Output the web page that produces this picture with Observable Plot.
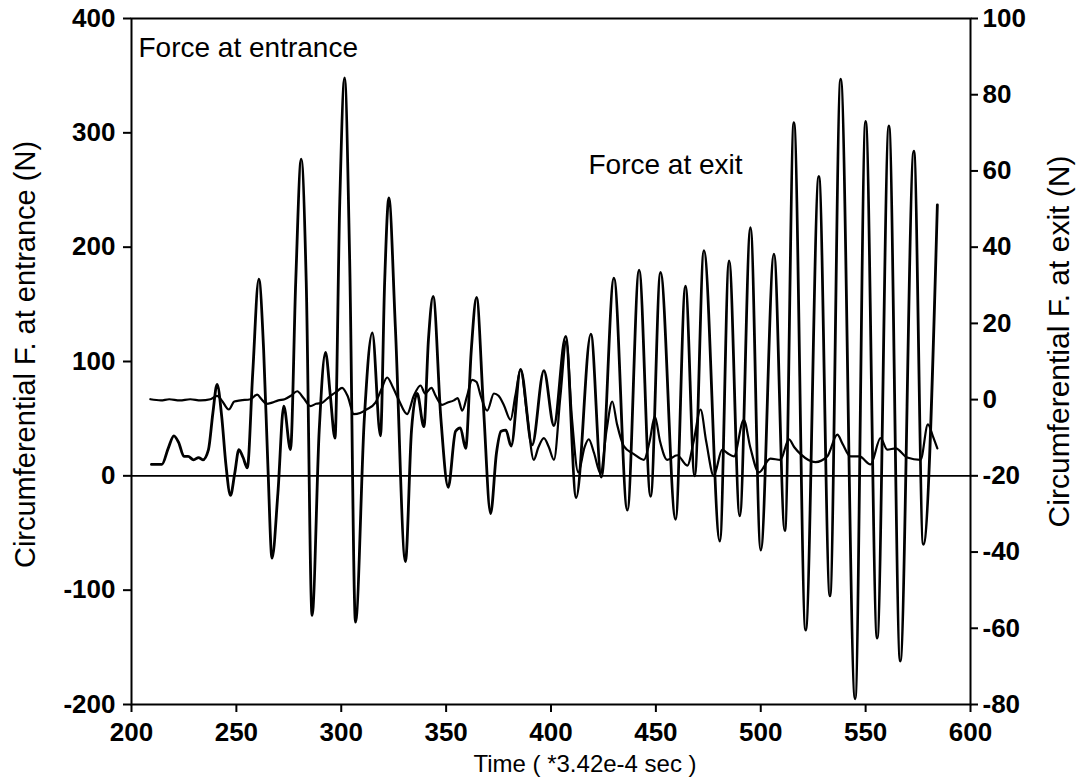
<!DOCTYPE html>
<html>
<head>
<meta charset="utf-8">
<script src="https://cdn.jsdelivr.net/npm/d3@7"></script>
<script src="https://cdn.jsdelivr.net/npm/@observablehq/plot@0.6"></script>
<style>
  html, body { margin: 0; padding: 0; background: #fff; }
</style>
</head>
<body>
<div id="chart"></div>
<script>
// Time axis (units of 3.42e-4 s)
const xTicks = [200, 250, 300, 350, 400, 450, 500, 550, 600];
const leftTicks = [-200, -100, 0, 100, 200, 300, 400];
const rightTicks = [-80, -60, -40, -20, 0, 20, 40, 60, 80, 100];

// Force at entrance (left axis, N)
const entTime = [209.5,214.5,217.5,220.2,222.5,225,227,229.6,232,234,236.7,238.8,240.8,243,245,247.2,249.2,251.2,253.2,255.2,257.8,260.7,263,265,267,269.8,272.6,275.8,278.3,280.9,283.3,286.1,289.5,292.5,294.8,297,299.3,301.6,304,306.8,311,314.8,318.7,320.7,322.7,325.8,330.6,333.5,336.2,339.4,341.6,343.8,347.5,351,354.5,356.8,359.3,362,364.5,367.8,371.2,374,376.2,378.5,381,385.5,391,396.6,401.4,407,412,419,424,430,436.4,442,447.5,452.2,459.4,464.1,468.5,472.9,480.5,484.9,490,495.1,500,506.3,511.5,515.8,521.4,527.7,533,538.1,545,550,555.5,561.1,566.5,573,577.5,584.2];
const entForce = [10,10,24,35,29,17,17,14,16,14,23,55,80,52,10,-17,2,23,16,7,90,172,110,10,-72,-15,61,23,170,277,170,-122,40,108,70,33,240,348,190,-128,50,125,35,170,243,130,-75,40,72,43,120,157,50,-10,39,42,24,110,156,60,-33,20,39,40,26,93,27,92,44,122,-19,124,-1,173,-30,180,-18,178,-38,166,0,197,-57,188,-35,217,-65,194,-48,309,-135,262,-105,347,-195,310,-142,306,-162,284,-60,237];

// Force at exit (right axis, N)
const exitTime = [209,214,218,223,228,233,237.6,240.8,243,246.4,249,252,256.7,259.9,262,264.3,267,270,273,276,279,282,285.3,288,291,293,295.7,298,300.4,303,306,309,312,316.3,319,321.9,324.5,327.5,331.4,334.6,337.8,340,343,345,348.1,350.5,353.7,355.5,357.7,360,362.4,364.5,366.5,369.6,372.8,375,377.5,380.7,383,385.5,388.5,391.8,394,396.6,399,401.4,404.5,407.3,410,413,416,418,420.5,423.6,426.5,429.2,431.5,434.7,439.5,444.3,447,449.5,452,455.4,460.2,465,468,471.3,474,477.6,481.6,484,487.2,491.9,495,499.1,504.6,509.4,513.4,516,519,526.1,531.7,536.5,539,542.8,547,552.4,557.1,560.3,564.3,569.8,576.2,579.7,582,584.2];
const exitForce = [0.1,-0.2,0.1,-0.2,0.1,-0.2,0.1,1,-0.2,-2.6,-0.5,-0.2,0.1,1.3,0.1,-1.1,-0.8,-0.2,0.1,1,2.2,0.4,-1.7,-1.1,-0.8,0.1,1.3,2.2,3.1,1,-3.8,-3.5,-2.6,-0.8,2.5,5.8,3.4,-0.2,-3.8,1,3.7,1.6,3.1,1,-1.4,-0.8,-0.2,0.4,-2.9,1,5.2,4.6,1,-2.9,1.6,1,-1.4,-5.3,1,7.9,-3.5,-15.8,-12.5,-10.1,-12.5,-15.8,1,15.4,-5,-19.1,-12.5,-10.4,-14,-19.4,-8,-0.5,-6.5,-12.2,-14.3,-15.8,-11,-4.4,-11,-15.8,-14.6,-17.3,-11,-2.6,-11,-20,-13.1,-14,-14.9,-5.3,-12.5,-19.1,-15.5,-15.8,-10.4,-12.5,-14.3,-16.4,-14.9,-9.2,-11.6,-14.9,-14.9,-17,-10.1,-13.1,-12.8,-15.2,-15.8,-6.5,-9.5,-12.8];

const entrance = entTime.map((t, i) => ({t, f: entForce[i]}));
const exit = exitTime.map((t, i) => ({t, f: exitForce[i]}));

// right axis value r corresponds to left value (r + 20) / 0.3
const toLeft = r => (r + 20) / 0.3;
const toRight = l => Math.round(l * 0.3 - 20);

const FONT = "'Liberation Sans', Arial, Helvetica, sans-serif";

const chart = Plot.plot({
  width: 1091,
  height: 780,
  marginLeft: 131,
  marginRight: 121,
  marginTop: 18,
  marginBottom: 76,
  style: {fontFamily: FONT, fontSize: "26px", color: "#000", background: "#fff", overflow: "visible"},
  x: {domain: [200, 600]},
  y: {domain: [-200, 400]},
  marks: [
    Plot.ruleY([0], {stroke: "#000", strokeWidth: 1.6}),
    Plot.line(exit, {x: "t", y: d => toLeft(d.f), stroke: "#000", strokeWidth: 2.2, curve: "monotone-x"}),
    Plot.line(entrance, {x: "t", y: "f", stroke: "#000", strokeWidth: 2.8, curve: "monotone-x"}),
    Plot.frame({stroke: "#000", strokeWidth: 2}),
    Plot.axisX({ticks: xTicks, tickSize: 8, tickPadding: 10, label: null, fontSize: 26, fontWeight: "bold", strokeWidth: 2, tickFormat: d => d}),
    Plot.axisY({anchor: "left", ticks: leftTicks, tickSize: 8, tickPadding: 8, label: null, fontSize: 26, fontWeight: "bold", strokeWidth: 2, tickFormat: d => d}),
    Plot.axisY({anchor: "right", ticks: rightTicks.map(toLeft), tickSize: 7, tickPadding: 5, label: null, fontSize: 26, fontWeight: "bold", strokeWidth: 2, tickFormat: toRight}),
    Plot.text(["Time ( *3.42e-4 sec )"], {frameAnchor: "bottom", dx: 34, dy: 60, fontSize: 24, textAnchor: "middle", lineAnchor: "middle", fill: "#000"}),
    Plot.text(["Circumferential F. at entrance (N)"], {frameAnchor: "left", dx: -106, dy: -7, rotate: -90, fontSize: 29, textAnchor: "middle", lineAnchor: "middle", fill: "#000"}),
    Plot.text(["Circumferential F. at exit (N)"], {frameAnchor: "right", dx: 89, dy: -20, rotate: -90, fontSize: 30, textAnchor: "middle", lineAnchor: "middle", fill: "#000"}),
    Plot.text(["Force at entrance"], {frameAnchor: "top-left", dx: 7, dy: 30, textAnchor: "start", lineAnchor: "middle", fontSize: 28, fill: "#000"}),
    Plot.text(["Force at exit"], {frameAnchor: "top-left", dx: 457, dy: 147, textAnchor: "start", lineAnchor: "middle", fontSize: 28, fill: "#000"})
  ]
});
document.getElementById("chart").appendChild(chart);
</script>
</body>
</html>
